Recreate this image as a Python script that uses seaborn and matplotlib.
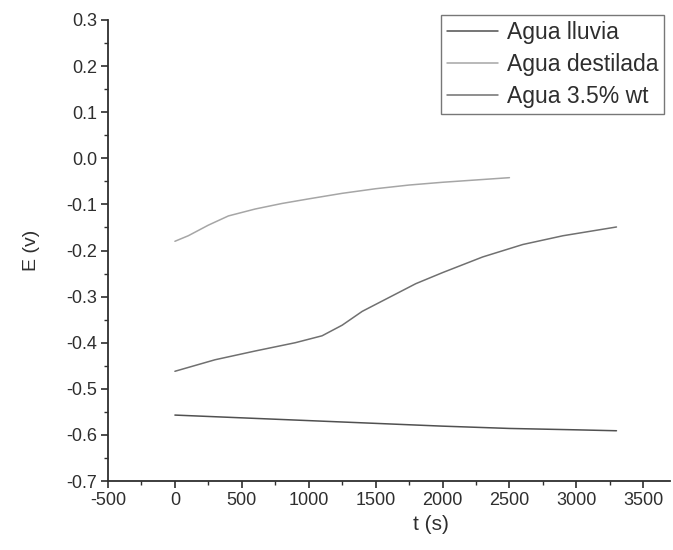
import numpy as np
import pandas as pd
import matplotlib
matplotlib.use("Agg")
import matplotlib.pyplot as plt
import seaborn as sns
from matplotlib.ticker import MultipleLocator

# ---- data ----
series_names = ["Agua lluvia", "Agua destilada", "Agua 3.5% wt"]

t_lluvia = [0, 500, 1000, 1500, 2000, 2500, 3000, 3300]
E_lluvia = [-0.557, -0.563, -0.569, -0.575, -0.581, -0.586, -0.589, -0.591]

t_destilada = [0, 100, 250, 400, 600, 800, 1000, 1250, 1500, 1750, 2000, 2250, 2500]
E_destilada = [-0.180, -0.168, -0.145, -0.125, -0.110, -0.098, -0.088, -0.076,
               -0.066, -0.058, -0.052, -0.047, -0.042]

t_salina = [0, 300, 600, 900, 1100, 1250, 1400, 1600, 1800, 2000, 2300, 2600, 2900, 3300]
E_salina = [-0.462, -0.437, -0.418, -0.400, -0.385, -0.362, -0.332, -0.302,
            -0.272, -0.248, -0.214, -0.187, -0.168, -0.149]

x_ticks = [-500, 0, 500, 1000, 1500, 2000, 2500, 3000, 3500]
y_ticks = [0.3, 0.2, 0.1, 0.0, -0.1, -0.2, -0.3, -0.4, -0.5, -0.6, -0.7]

colors = {"Agua lluvia": "#505050", "Agua destilada": "#a6a6a6", "Agua 3.5% wt": "#707070"}

frames = []
for name, t, e in [(series_names[0], t_lluvia, E_lluvia),
                   (series_names[1], t_destilada, E_destilada),
                   (series_names[2], t_salina, E_salina)]:
    frames.append(pd.DataFrame({"t": t, "E": e, "serie": name}))
df = pd.concat(frames, ignore_index=True)

sns.set_style("ticks")
plt.rcParams["font.family"] = ["Liberation Sans", "DejaVu Sans"]

W, H = 673, 550
fig = plt.figure(figsize=(W / 100, H / 100), dpi=100)
ax = fig.add_axes([108 / W, 1 - 481 / H, (670 - 108) / W, (481 - 20) / H])

sns.lineplot(data=df, x="t", y="E", hue="serie", hue_order=series_names,
             palette=colors, sort=False, estimator=None, linewidth=1.1, ax=ax)

ax.set_xlim(-500, 3700)
ax.set_ylim(-0.7, 0.3)
ax.set_xticks(x_ticks)
ax.set_xticklabels([str(v) for v in x_ticks])
ax.set_yticks(y_ticks)
ax.set_yticklabels([f"{v:.1f}" for v in y_ticks])
ax.xaxis.set_minor_locator(MultipleLocator(250))
ax.yaxis.set_minor_locator(MultipleLocator(0.05))

for side in ["top", "right"]:
    ax.spines[side].set_visible(False)
for side in ["left", "bottom"]:
    ax.spines[side].set_linewidth(1.3)
    ax.spines[side].set_color("#2e2e2e")

ax.tick_params(axis="both", which="major", direction="out", length=5, width=1.2,
               labelsize=13, colors="#2e2e2e", pad=3)
ax.tick_params(axis="both", which="minor", direction="out", length=3, width=1.0,
               colors="#2e2e2e")

ax.set_xlabel("t (s)", fontsize=15, color="#2e2e2e")
ax.set_ylabel("E (v)", fontsize=14, color="#2e2e2e")
ax.xaxis.set_label_coords((431 - 108) / (670 - 108), -0.074)
ax.yaxis.set_label_coords(-0.121, 0.5)

handles, labels = ax.get_legend_handles_labels()
leg = ax.legend(handles, labels, loc="upper right",
                bbox_to_anchor=(664 / W, 1 - 15 / H), bbox_transform=fig.transFigure,
                fontsize=16.5, frameon=True, fancybox=False, borderaxespad=0,
                handlelength=2.2, handletextpad=0.4, labelspacing=0.4,
                borderpad=0.25)
leg.get_frame().set_edgecolor("#555555")
leg.get_frame().set_linewidth(1.0)
for txt in leg.get_texts():
    txt.set_color("#2e2e2e")

fig.savefig("out.png", dpi=100)
